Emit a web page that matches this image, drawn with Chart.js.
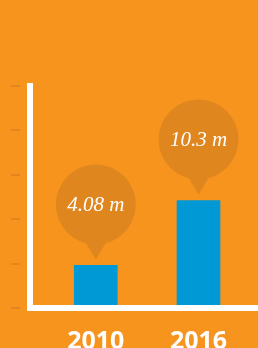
<!DOCTYPE html>
<html lang="en">
<head>
    <meta charset="UTF-8">
    <title>2010 vs 2016</title>
    <style>
        body {
            margin: 0;
            background-color: #F7941E;
        }
        #chart-container {
            width: 258px;
            height: 348px;
        }
    </style>
    <script src="https://cdn.jsdelivr.net/npm/chart.js"></script>
</head>
<body>
    <div id="chart-container">
        <canvas id="yearChart" width="258" height="348"></canvas>
    </div>
    <script>
        // data
        const years = ['2010', '2016'];
        const values = [4.08, 10.3];
        const unit = 'm';
        const yMax = 21.28;     // top of the y axis
        const yTickCount = 6;   // faint marks left of the axis
        const xMin = 2006.157;  // x axis range in years
        const xMax = 2019.475;

        const orange = '#F7941E';
        const bubbleColor = '#E0861F';
        const barColor = '#0099D5';

        // orange background behind everything
        const backgroundPlugin = {
            id: 'background',
            beforeDraw(chart) {
                const ctx = chart.ctx;
                ctx.save();
                ctx.fillStyle = orange;
                ctx.fillRect(0, 0, chart.width, chart.height);
                ctx.restore();
            }
        };

        // speech bubble with the value above each bar
        const bubblePlugin = {
            id: 'bubbles',
            afterDatasetsDraw(chart) {
                const ctx = chart.ctx;
                const meta = chart.getDatasetMeta(0);
                meta.data.forEach((bar, i) => {
                    const cx = bar.x;
                    const cy = bar.y - 61;
                    const r = 40;
                    ctx.save();
                    ctx.fillStyle = bubbleColor;
                    ctx.beginPath();
                    ctx.arc(cx, cy, r, 0, Math.PI * 2);
                    ctx.fill();
                    ctx.beginPath();
                    ctx.moveTo(cx - 15, cy + 30);
                    ctx.lineTo(cx + 15, cy + 30);
                    ctx.lineTo(cx, cy + 55);
                    ctx.closePath();
                    ctx.fill();
                    ctx.fillStyle = '#ffffff';
                    ctx.font = 'italic 21px "Liberation Serif"';
                    ctx.textAlign = 'center';
                    ctx.textBaseline = 'middle';
                    ctx.fillText(values[i] + ' ' + unit, cx, cy + 1);
                    ctx.restore();
                });
            }
        };

        const ctx = document.getElementById('yearChart').getContext('2d');
        new Chart(ctx, {
            type: 'bar',
            data: {
                datasets: [{
                    data: years.map((y, i) => ({ x: Number(y), y: values[i] })),
                    backgroundColor: barColor,
                    barThickness: 43
                }]
            },
            options: {
                responsive: false,
                animation: false,
                layout: {
                    padding: { top: 86, left: 0, right: 0, bottom: 0 }
                },
                plugins: {
                    legend: { display: false },
                    tooltip: { enabled: false }
                },
                scales: {
                    x: {
                        type: 'linear',
                        offset: false,
                        min: xMin,
                        max: xMax,
                        afterBuildTicks: scale => {
                            scale.ticks = years.map(y => ({ value: Number(y) }));
                            scale.min = xMin;
                            scale.max = xMax;
                        },
                        afterFit: scale => { scale.height = 40; },
                        grid: { display: false, offset: false },
                        border: { display: true, color: '#ffffff', width: 6, z: 1 },
                        ticks: {
                            color: '#ffffff',
                            padding: 11,
                            font: { family: '"Open Sans"', size: 25, weight: 'bold' },
                            callback: v => String(v)
                        }
                    },
                    y: {
                        min: 0,
                        max: yMax,
                        afterFit: scale => { scale.width = 30; },
                        grid: {
                            display: true,
                            drawOnChartArea: false,
                            drawTicks: true,
                            tickLength: 19,
                            tickColor: '#E2871F',
                            tickWidth: 2,
                            lineWidth: 2,
                            tickBorderDash: [9, 30]
                        },
                        border: { display: true, color: '#ffffff', width: 6, z: 1 },
                        ticks: { display: false, count: yTickCount }
                    }
                }
            },
            plugins: [backgroundPlugin, bubblePlugin]
        });
    </script>
</body>
</html>
